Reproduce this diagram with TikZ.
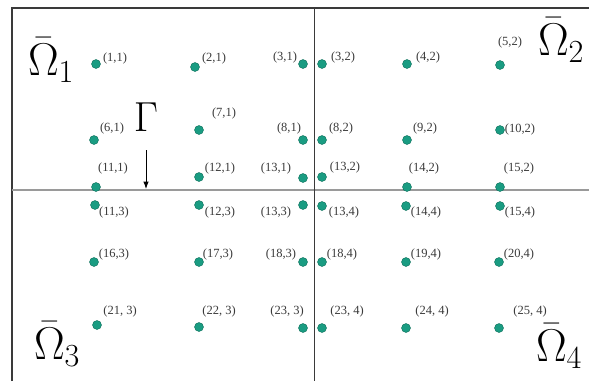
\RequirePackage{fix-cm}
\documentclass[tikz,border=0pt]{standalone}
\usepackage{fontspec}
\setmainfont{Liberation Serif}
\usetikzlibrary{arrows.meta}
\definecolor{gridTeal}{HTML}{1A9C82}
\definecolor{gridRim}{HTML}{0E6E5A}
\definecolor{gridInk}{HTML}{3A3A3A}
\definecolor{gridGray}{HTML}{9A9A9A}

\begin{document}
\begin{tikzpicture}[x=1pt,y=-1pt,>=Latex]
  \tikzstyle{gridpt}=[circle,fill=gridTeal,draw=gridRim,line width=.4pt,inner sep=0pt,minimum size=9pt]
  \tikzstyle{ptlabel}=[inner sep=0pt,text=gridInk,font=\fontsize{12.5}{13}\selectfont]
  \tikzstyle{domlabel}=[inner sep=0pt,text=black,font=\fontsize{46}{46}\selectfont]
  \useasboundingbox (0,0) rectangle (589,381);
  % frame and cut lines
  \draw[gridInk,line width=1.4pt] (12,381) -- (12,8) -- (589,8);
  \draw[gridGray,line width=1.5pt] (12,190) -- (589,190);
  \draw[gridInk,line width=1pt] (314,8) -- (314,381);
  % grid points: name/x/y/label x/label y/text
  \foreach \n/\x/\y/\lx/\ly/\t in {
    a/96/64/115/58/{(1,1)}, b/195/67/214/58/{(2,1)}, c/303/64/285/57/{(3,1)},
    d/322/64/343/57/{(3,2)}, e/407/64/428/57/{(4,2)}, f/500/65/510/42/{(5,2)},
    g/94/140/112/128/{(6,1)}, h/199/130/224/113/{(7,1)}, i/303/140/289/128/{(8,1)},
    j/322/140/341/128/{(8,2)}, k/407/140/425/128/{(9,2)}, l/500/130/520/129/{(10,2)},
    m/96/187/113/168/{(11,1)}, n/199/177/220/168/{(12,1)}, o/303/178/276/168/{(13,1)},
    p/322/177/345/167/{(13,2)}, q/407/187/424/168/{(14,2)}, r/500/187/519/168/{(15,2)},
    s/95/205/114/212/{(11,3)}, t/199/205/220/212/{(12,3)}, u/303/205/276/212/{(13,3)},
    v/322/206/344/212/{(13,4)}, w/406/206/426/212/{(14,4)}, x/500/206/520/212/{(15,4)},
    y/94/262/114/254/{(16,3)}, z/199/262/218/254/{(17,3)}, aa/303/262/281/254/{(18,3)},
    ab/322/262/342/254/{(18,4)}, ac/406/262/426/254/{(19,4)}, ad/499/262/519/254/{(20,4)},
    ae/97/325/120/311/{(21, 3)}, af/199/327/219/311/{(22, 3)}, ag/303/328/287/311/{(23, 3)},
    ah/322/328/347/311/{(23, 4)}, ai/406/328/432/311/{(24, 4)}, aj/499/328/530/311/{(25, 4)}}{
    \node[gridpt] (pt-\n) at (\x,\y) {};
    \node[ptlabel] (lb-\n) at (\lx,\ly) {\t};
  }
  % subdomains
  \node[domlabel] (om1) at (51,60) {$\bar{\Omega}_1$};
  \node[domlabel] (om2) at (561,40) {$\bar{\Omega}_2$};
  \node[domlabel] (om3) at (57,344) {$\bar{\Omega}_3$};
  \node[domlabel] (om4) at (559,346) {$\bar{\Omega}_4$};
  % interface
  \node[domlabel,font=\fontsize{42}{42}\selectfont] (gamma) at (146,117) {$\Gamma$};
  \coordinate (gtop) at (146,150);
  \coordinate (gtip) at (146,189);
  \draw[->,line width=1pt] (gtop) -- (gtip);
\end{tikzpicture}
\end{document}
